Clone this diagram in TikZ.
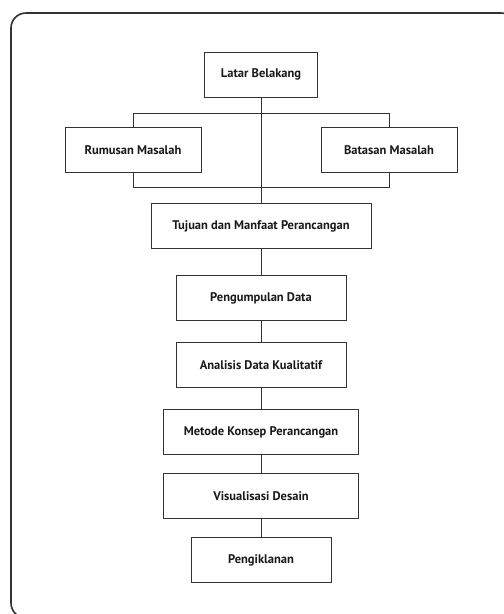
\documentclass[tikz,border=0pt]{standalone}
\usepackage{fontspec}
\setmainfont{PT Sans}
\usetikzlibrary{positioning}

\tikzset{
    box/.style={draw=black!80,
        line width=0.9pt,
        fill=white,
        text=black!90,
        font=\fontsize{12.5}{14}\selectfont\bfseries,
        minimum height=45pt,
        inner sep=0pt},
    link/.style={draw=black!80, line width=0.9pt}
}

\begin{document}
\begin{tikzpicture}

        \useasboundingbox (0,0) rectangle (504pt,-614pt);
        \clip (0,0) rectangle (504pt,-614pt);

        % Add the frame
        \draw[black!80, line width=1.6pt, rounded corners=15pt]
            (11pt,-13pt) rectangle (516pt,-618pt);

        % Add the boxes
        \node[box,
            minimum width=113pt] (latar) at (261pt,-74.5pt) {Latar Belakang};
        \node[box,
            below=30pt of latar,
            xshift=-128pt,
            minimum width=136pt] (rumusan) {Rumusan Masalah};
        \node[box,
            below=30pt of latar,
            xshift=128pt,
            minimum width=136pt] (batasan) {Batasan Masalah};
        \node[box,
            below=106pt of latar,
            minimum width=220pt] (tujuan) {Tujuan dan Manfaat Perancangan};
        \node[box,
            below=26pt of tujuan,
            minimum width=170pt] (data) {Pengumpulan Data};
        \node[box,
            below=21pt of data,
            minimum width=170pt] (analisis) {Analisis Data Kualitatif};
        \node[box,
            below=21pt of analisis,
            minimum width=195pt] (metode) {Metode Konsep Perancangan};
        \node[box,
            below=18pt of metode,
            minimum width=195pt] (visual) {Visualisasi Desain};
        \node[box,
            below=18pt of visual,
            minimum width=140pt] (iklan) {Pengiklanan};

        % Connect the boxes with lines
        \draw[link] (rumusan.north) -- ++(0,14pt) -| (batasan.north);
        \draw[link] (rumusan.south) -- ++(0,-14pt) -| (batasan.south);
        \draw[link] (latar) -- (tujuan)
            (tujuan) -- (data)
            (data) -- (analisis)
            (analisis) -- (metode)
            (metode) -- (visual)
            (visual) -- (iklan);
\end{tikzpicture}
\end{document}
